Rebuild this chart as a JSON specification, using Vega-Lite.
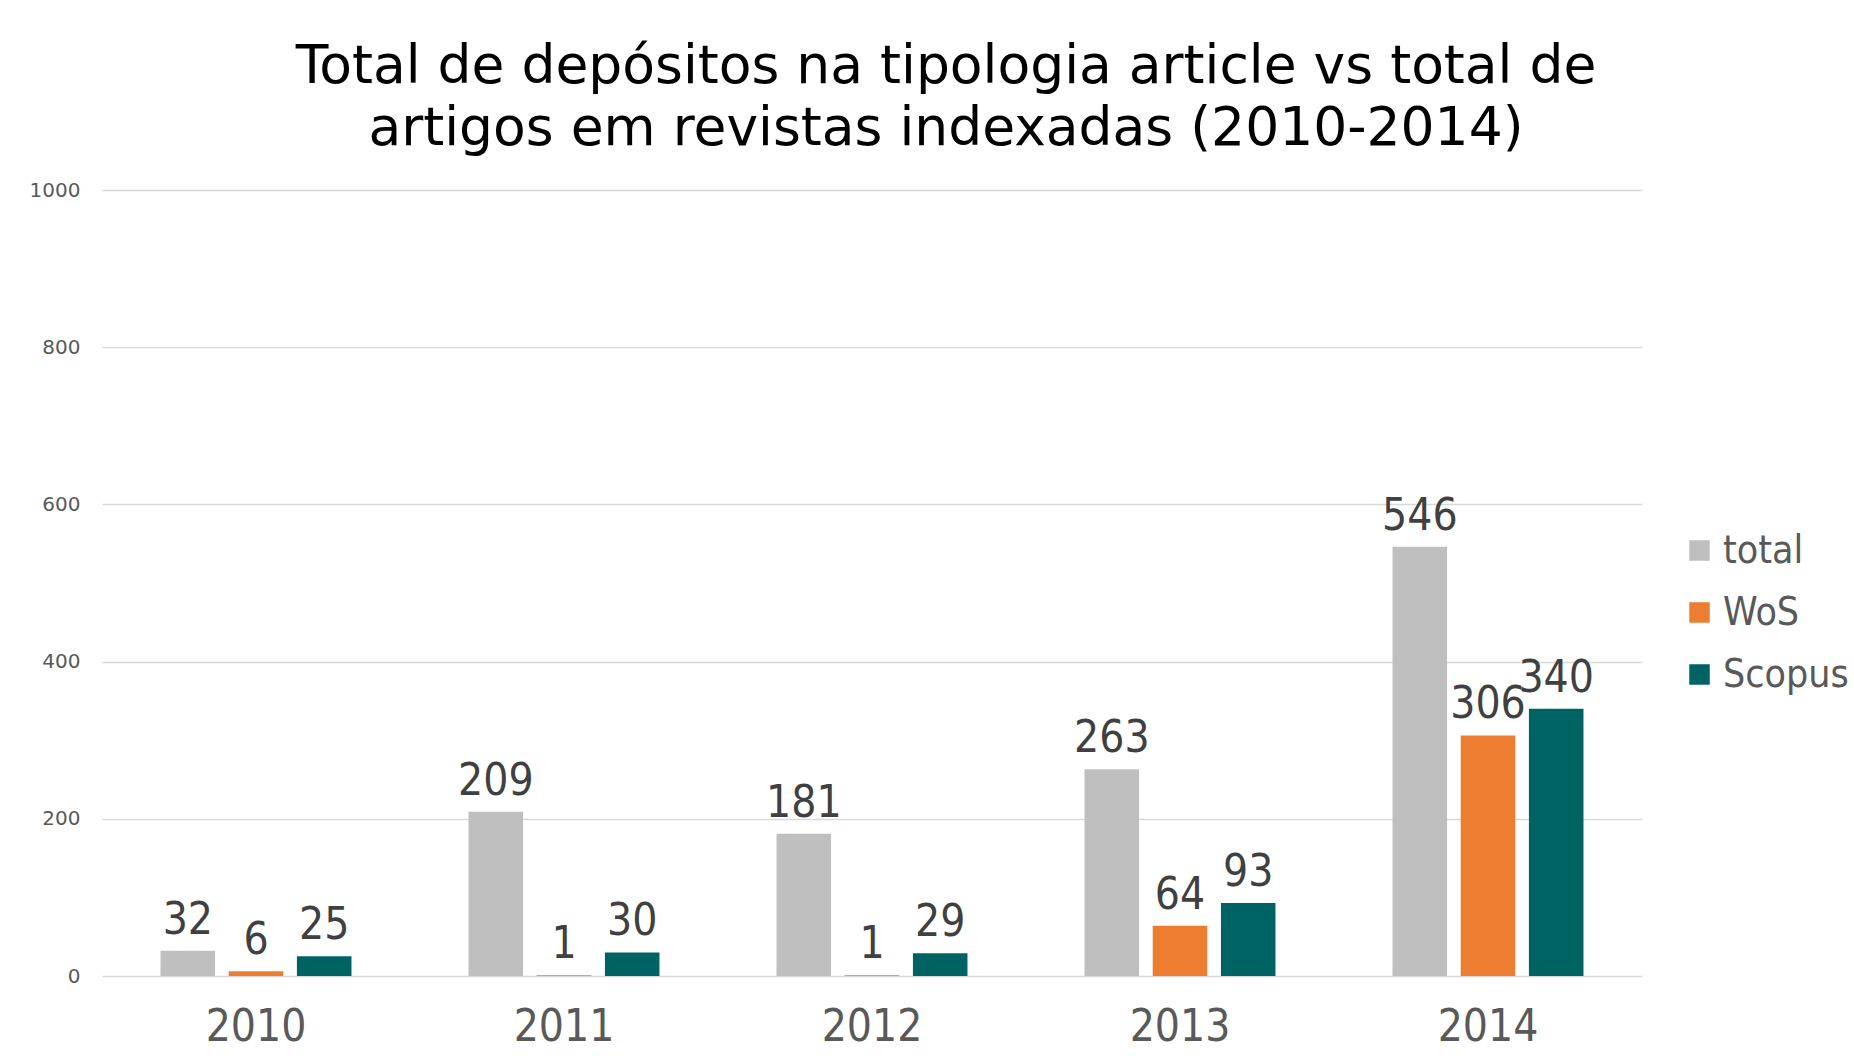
{
  "$schema": "https://vega.github.io/schema/vega-lite/v6.json",
  "width": 1540,
  "height": 786,
  "autosize": {"type": "none"},
  "padding": {"left": 102, "top": 190, "right": 212, "bottom": 80},
  "background": "white",
  "title": {
    "text": ["Total de depósitos na tipologia article vs total de", "artigos em revistas indexadas (2010-2014)"],
    "anchor": "middle",
    "frame": "group",
    "dx": 74,
    "offset": 24,
    "font": "DejaVu Sans",
    "fontSize": 53.5,
    "fontWeight": "normal",
    "lineHeight": 62,
    "color": "#000000"
  },
  "data": {
    "values": [
      {"year": "2010", "series": "total", "value": 32},
      {"year": "2010", "series": "WoS", "value": 6},
      {"year": "2010", "series": "Scopus", "value": 25},
      {"year": "2011", "series": "total", "value": 209},
      {"year": "2011", "series": "WoS", "value": 1},
      {"year": "2011", "series": "Scopus", "value": 30},
      {"year": "2012", "series": "total", "value": 181},
      {"year": "2012", "series": "WoS", "value": 1},
      {"year": "2012", "series": "Scopus", "value": 29},
      {"year": "2013", "series": "total", "value": 263},
      {"year": "2013", "series": "WoS", "value": 64},
      {"year": "2013", "series": "Scopus", "value": 93},
      {"year": "2014", "series": "total", "value": 546},
      {"year": "2014", "series": "WoS", "value": 306},
      {"year": "2014", "series": "Scopus", "value": 340}
    ]
  },
  "encoding": {
    "x": {
      "field": "year",
      "type": "nominal",
      "scale": {"paddingInner": 0.38, "paddingOuter": 0.19},
      "axis": {
        "title": null,
        "labelAngle": 0,
        "ticks": false,
        "domain": false,
        "labelFont": "DejaVu Sans Condensed, DejaVu Sans",
        "labelFontSize": 44,
        "labelColor": "#595959",
        "labelPadding": 29
      }
    },
    "xOffset": {
      "field": "series",
      "type": "nominal",
      "scale": {"domain": ["total", "WoS", "Scopus"], "paddingInner": 0.2}
    },
    "y": {
      "field": "value",
      "type": "quantitative",
      "scale": {"domain": [0, 1000]},
      "axis": {
        "title": null,
        "values": [0, 200, 400, 600, 800, 1000],
        "format": "d",
        "ticks": false,
        "domain": false,
        "grid": true,
        "gridColor": "#d9d9d9",
        "gridWidth": 1.5,
        "labelFont": "DejaVu Sans",
        "labelFontSize": 20,
        "labelColor": "#595959",
        "labelPadding": 22
      }
    }
  },
  "layer": [
    {
      "mark": {"type": "bar"},
      "encoding": {
        "color": {
          "field": "series",
          "type": "nominal",
          "scale": {"domain": ["total", "WoS", "Scopus"], "range": ["#bfbfbf", "#ed7d31", "#006363"]},
          "legend": {
            "title": null,
            "orient": "none",
            "legendX": 1578,
            "legendY": 341,
            "symbolType": "square",
            "symbolSize": 420,
            "symbolStrokeWidth": 0,
            "labelFont": "DejaVu Sans Condensed, DejaVu Sans",
            "labelFontSize": 39,
            "labelColor": "#595959",
            "labelOffset": 4,
            "rowPadding": 22
          }
        }
      }
    },
    {
      "mark": {"type": "text", "baseline": "alphabetic", "dy": -17, "font": "DejaVu Sans Condensed, DejaVu Sans", "fontSize": 44, "color": "#404040"},
      "encoding": {"text": {"field": "value", "type": "quantitative"}}
    }
  ],
  "config": {"view": {"stroke": null}}
}
